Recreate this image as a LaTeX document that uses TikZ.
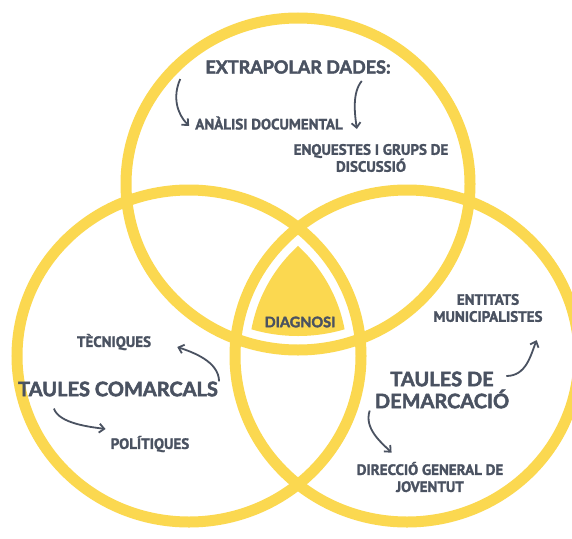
\documentclass[tikz,border=0pt]{standalone}
\usepackage{fontspec}
\setmainfont{PT Sans}[BoldFeatures={FakeBold=1.6}]
\newfontfamily\headfont{Lato}[BoldFeatures={FakeBold=2.4}]
\usetikzlibrary{positioning,arrows.meta}
\definecolor{vennyellow}{RGB}{251,216,80}
\definecolor{inkgray}{RGB}{74,82,97}
\tikzset{%
  venn ring/.style={
    draw=vennyellow,
    line width=11pt
  },
  head label/.style={
    text=inkgray,
    align=center,
    inner sep=0pt,
    font=\headfont\bfseries\fontsize{19}{22}\selectfont
  },
  item label/.style={
    text=inkgray,
    align=center,
    inner sep=0pt,
    font=\bfseries\fontsize{15}{17}\selectfont
  },
  curl/.style={
    draw=inkgray,
    line width=1.8pt,
    -{Straight Barb[length=5pt,width=9pt]}
  },
}

\begin{document}
\begin{tikzpicture}[x=1pt, y=-1pt]
\useasboundingbox[fill=white] (0,0) rectangle (572,538);
\clip (0,0) rectangle (572,538);

    % the three rings
    \draw[venn ring] (298,184) ellipse [x radius=172pt, y radius=166pt];
    \draw[venn ring] (189,356) ellipse [x radius=172pt, y radius=166pt];
    \draw[venn ring] (407,356) ellipse [x radius=172pt, y radius=166pt];

    % common part
    \begin{scope}
        \clip (298,184) ellipse [x radius=158pt, y radius=152pt];
        \clip (189,356) ellipse [x radius=158pt, y radius=152pt];
        \fill[vennyellow] (407,356) ellipse [x radius=158pt, y radius=152pt];
    \end{scope}
    \node[head label, font=\headfont\bfseries\fontsize{14.5}{17}\selectfont] (diag) at (300,322) {DIAGNOSI};

    \node[head label, font=\headfont\bfseries\fontsize{18}{22}\selectfont] (extr) at (298,67) {EXTRAPOLAR DADES:};
    \node[item label] (anal) at (269,123) {ANÀLISI DOCUMENTAL};
    \node[item label] (enq) at (371,158) {ENQUESTES I GRUPS DE\\DISCUSSIÓ};

    \node[head label, font=\headfont\bfseries\fontsize{20}{22}\selectfont] (tcom) at (118,389) {TAULES COMARCALS};
    \node[item label] (tec) at (114,342) {TÈCNIQUES};
    \node[item label] (pol) at (150,444) {POLÍTIQUES};

    \node[head label, font=\headfont\bfseries\fontsize{20}{22}\selectfont] (tdem) at (442,390) {TAULES DE\\DEMARCACIÓ};
    \node[item label] (ent) at (488,308) {ENTITATS\\MUNICIPALISTES};
    \node[item label] (dir) at (430,477) {DIRECCIÓ GENERAL DE\\JOVENTUT};

    \draw[curl] ([shift={(-25,12)}]extr.west) .. controls +(-8,18) and +(-12,-12) .. ([shift={(-6,3)}]anal.west);
    \draw[curl] ([shift={(-29,14)}]extr.east) .. controls +(-10,12) and +(-2,-14) .. ([shift={(14,6)}]anal.east);
    \draw[curl] ([shift={(1,0)}]tcom.north east) .. controls +(0,-20) and +(15,5) .. ([shift={(26,5)}]tec.east);
    \draw[curl] ([shift={(36,12)}]tcom.south west) .. controls +(5,15) and +(-15,-2) .. ([shift={(-5,-15)}]pol.west);
    \draw[curl] ([shift={(-3,-14)}]tdem.east) .. controls +(20,0) and +(-6,15) .. ([shift={(-6,18)}]ent.south east);
    \draw[curl] ([shift={(-5,2)}]tdem.south west) .. controls +(-6,18) and +(-10,-10) .. ([shift={(35,-9)}]dir.north west);
\end{tikzpicture}
\end{document}
